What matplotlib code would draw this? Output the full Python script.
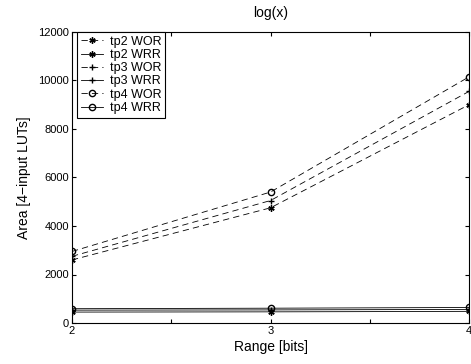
import numpy as np
import matplotlib
matplotlib.use("Agg")
import matplotlib.pyplot as plt

plt.rcParams['font.family'] = ['Liberation Sans', 'DejaVu Sans']
plt.rcParams['lines.scale_dashes'] = False

bits = [2, 3, 4]

tp2_wor = [2600, 4750, 9000]
tp2_wrr = [450, 460, 480]
tp3_wor = [2750, 5050, 9550]
tp3_wrr = [530, 540, 560]
tp4_wor = [2950, 5400, 10150]
tp4_wrr = [590, 610, 640]

labels = ['tp2 WOR', 'tp2 WRR', 'tp3 WOR', 'tp3 WRR', 'tp4 WOR', 'tp4 WRR']


def main():
    fig = plt.figure(figsize=(4.71, 3.64), dpi=100)
    ax = fig.add_axes([72/471, 1 - 323/364, 397/471, 291/364])

    ast = (6, 2, 0)
    dsh = (4.5, 3)
    lw = 0.6
    ax.plot(bits, tp2_wor, 'k--', dashes=dsh, marker=ast, ms=4.5, lw=lw, label=labels[0])
    ax.plot(bits, tp2_wrr, 'k-', marker=ast, ms=4.5, lw=lw, label=labels[1])
    ax.plot(bits, tp3_wor, 'k--', dashes=dsh, marker='+', ms=5, lw=lw, label=labels[2])
    ax.plot(bits, tp3_wrr, 'k-', marker='+', ms=5, lw=lw, label=labels[3])
    ax.plot(bits, tp4_wor, 'k--', dashes=dsh, marker='o', ms=4.5, mfc='none', lw=lw, label=labels[4])
    ax.plot(bits, tp4_wrr, 'k-', marker='o', ms=4.5, mfc='none', lw=lw, label=labels[5])

    ax.set_xlim(2, 4)
    ax.set_ylim(0, 12000)
    ax.set_xticks([2, 2.5, 3, 3.5, 4])
    ax.set_xticklabels(['2', '', '3', '', '4'])
    ax.set_yticks(np.arange(0, 12001, 2000))
    ax.tick_params(direction='in', labelsize=8, length=3, top=True, right=True, pad=2)
    for s in ax.spines.values():
        s.set_linewidth(0.8)

    ax.set_xlabel('Range [bits]', fontsize=10, labelpad=3)
    ax.set_ylabel('Area [4\u2212input LUTs]', fontsize=10, labelpad=5)
    ax.set_title('log(x)', fontsize=10, pad=11)

    leg = ax.legend(loc='upper left', bbox_to_anchor=(5/397, 1.0), fontsize=9,
                    fancybox=False, edgecolor='k', framealpha=1,
                    handlelength=1.8, borderpad=0.3, labelspacing=0.1,
                    handletextpad=0.5, borderaxespad=0)
    leg.get_frame().set_linewidth(0.8)

    fig.savefig('out.png', dpi=100)


if __name__ == "__main__":
    main()
